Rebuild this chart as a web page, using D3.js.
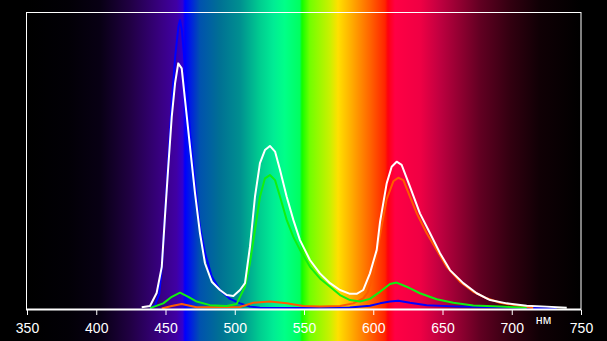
<!DOCTYPE html>
<html>
<head>
<meta charset="utf-8">
<script src="https://cdn.jsdelivr.net/npm/d3@7"></script>
<style>
    body { margin: 0; background: #000; }
    svg { display: block; }
</style>
</head>
<body>
<div class="chart"></div>
<script>
// x axis ticks (nm)
let xTicks = [350, 400, 450, 500, 550, 600, 650, 700, 750];
let unitLabel = "нм";

// spectrum background: wavelength -> colour
let spectrumNm = [350, 380, 403, 424, 446, 458, 462.5, 464.1, 475, 489, 504, 518, 528, 536, 547, 548.5, 554, 569, 574.6, 583, 597.6, 608.5, 610.6, 615.7, 633.7, 648, 677, 699, 720, 750];
let spectrumColor = ["#000000", "#020006", "#080014", "#200042", "#380080", "#4000a4", "#3200d0", "#0000ff", "#0052ae", "#007094", "#009090", "#00cc90", "#00ec94", "#00ff88", "#00ff60", "#10ff00", "#70ff00", "#ccf000", "#ffe000", "#ffb400", "#ff6400", "#ff2400", "#ff0010", "#ff0044", "#f00044", "#c00040", "#620022", "#320010", "#100005", "#000000"];

// white (total)
let whiteNm = [432.8, 438.8, 443.6, 447.3, 449.6, 452.0, 454.5, 456.9, 459.2, 461.7, 464.1, 467.7, 471.3, 474.9, 478.5, 483.4, 489.3, 494.2, 499.0, 503.8, 507.4, 511.0, 514.6, 518.2, 521.8, 525.4, 529.1, 532.7, 537.5, 542.3, 547.1, 554.3, 561.5, 568.8, 576.0, 583.2, 588.0, 592.8, 597.6, 602.5, 604.9, 609.7, 613.3, 616.9, 620.5, 626.5, 633.7, 641.0, 648.2, 655.4, 665.0, 674.7, 684.3, 696.3, 710.8, 725.2, 739.7];
let whiteVal = [0.6, 1.0, 5.4, 14.2, 31.1, 47.9, 64.7, 76.0, 82.7, 81.0, 70.4, 54.6, 39.0, 25.5, 15.4, 9.2, 6.4, 4.7, 4.4, 6.4, 8.7, 21.0, 37.8, 49.1, 53.5, 54.9, 53.0, 46.8, 37.8, 30.0, 23.2, 16.5, 12.0, 8.7, 6.4, 5.1, 5.1, 6.4, 12.0, 19.9, 29.3, 42.3, 47.9, 49.6, 48.5, 41.2, 32.2, 25.5, 18.8, 13.1, 8.7, 5.3, 3.0, 1.9, 1.1, 0.8, 0.4];

// blue
let blueNm = [438.8, 442.4, 445.5, 447.5, 449.8, 452.2, 454.6, 457.0, 459.3, 460.5, 461.8, 464.1, 467.7, 471.3, 474.9, 478.5, 483.4, 489.3, 496.6, 503.8, 511.0, 518.2, 547.0, 583.0, 597.6, 604.9, 612.1, 618.1, 626.5, 638.6, 662.6, 691.5, 732.4];
let blueVal = [0.2, 1.3, 5.0, 15.0, 33.0, 52.0, 70.0, 85.0, 95.0, 97.3, 94.0, 81.6, 59.3, 42.4, 27.6, 18.9, 10.9, 6.4, 3.4, 1.9, 0.8, 0.4, 0.3, 0.5, 1.1, 1.9, 2.5, 2.8, 2.1, 1.3, 0.8, 0.6, 0.2];

// green
let greenNm = [438.8, 448.4, 454.5, 460.5, 466.5, 472.5, 482.1, 494.2, 501.4, 503.8, 507.4, 511.0, 514.6, 518.2, 521.8, 525.4, 529.1, 532.7, 537.5, 542.3, 547.1, 554.3, 561.5, 568.8, 576.0, 583.2, 590.4, 597.6, 604.9, 612.1, 616.9, 624.1, 633.7, 645.8, 657.8, 672.2, 691.5, 710.8];
let greenVal = [0.3, 1.9, 4.1, 5.5, 4.1, 2.5, 1.3, 1.0, 1.7, 4.1, 7.5, 15.5, 26.6, 37.8, 44.0, 45.1, 43.4, 37.8, 30.0, 24.3, 19.9, 14.2, 10.3, 7.5, 4.7, 3.0, 2.5, 3.4, 5.8, 8.4, 8.9, 7.5, 5.3, 3.3, 2.1, 1.2, 0.8, 0.4];

// red
let redNm = [447.3, 454.5, 461.7, 472.5, 503.8, 513.4, 525.4, 537.5, 549.5, 561.5, 576.0, 585.6, 592.8, 596.0, 600.0, 604.9, 609.7, 614.5, 618.1, 621.7, 626.5, 631.4, 638.6, 645.8, 653.0, 662.6, 672.2, 681.9, 691.5, 705.9, 715.5];
let redVal = [0.2, 1.0, 1.7, 0.6, 0.7, 2.1, 2.5, 1.9, 1.0, 0.8, 1.0, 1.9, 3.6, 5.5, 11.5, 25.0, 37.0, 43.0, 44.2, 43.4, 37.8, 32.2, 25.5, 19.9, 14.2, 9.2, 5.8, 3.6, 2.1, 1.0, 0.3];

let series = [
    {name: "blue", color: "#0000ff", nm: blueNm, val: blueVal},
    {name: "red", color: "#ff5a00", nm: redNm, val: redVal},
    {name: "green", color: "#10f010", nm: greenNm, val: greenVal},
    {name: "white", color: "#ffffff", nm: whiteNm, val: whiteVal}
];

let width = 607;
let height = 341;
let plotLeft = 27, plotRight = 581, plotTop = 12, plotBottom = 309;

let svg = d3.select(".chart").append("svg")
    .attr("width", width)
    .attr("height", height);

let x = d3.scaleLinear().domain([350, 750]).range([plotLeft, plotRight]);
let y = d3.scaleLinear().domain([0, 100]).range([plotBottom, plotTop]);

// spectrum gradient over the whole picture
let grad = svg.append("defs").append("linearGradient")
    .attr("id", "spectrum")
    .attr("gradientUnits", "userSpaceOnUse")
    .attr("x1", x(350)).attr("x2", x(750))
    .attr("y1", 0).attr("y2", 0);

grad.selectAll("stop")
    .data(spectrumNm)
    .enter()
    .append("stop")
    .attr("offset", function (d) { return (d - 350) / 400; })
    .attr("stop-color", function (d, i) { return spectrumColor[i]; });

svg.append("rect")
    .attr("x", 0).attr("y", 0)
    .attr("width", width).attr("height", height)
    .attr("fill", "url(#spectrum)");

// curves
let line = d3.line()
    .x(function (d) { return x(d[0]); })
    .y(function (d) { return y(d[1]); });

svg.selectAll(".curve")
    .data(series)
    .enter()
    .append("path")
    .attr("class", "curve")
    .attr("fill", "none")
    .attr("stroke", function (d) { return d.color; })
    .attr("stroke-width", 2)
    .attr("stroke-linejoin", "round")
    .attr("d", function (d) {
        return line(d.nm.map(function (n, i) { return [n, d.val[i]]; }));
    });

// frame
svg.append("rect")
    .attr("x", plotLeft - 0.5).attr("y", plotTop + 0.5)
    .attr("width", plotRight - plotLeft + 0.5).attr("height", plotBottom - plotTop)
    .attr("fill", "none")
    .attr("stroke", "#fff")
    .attr("stroke-width", 1);

svg.append("line")
    .attr("x1", plotLeft - 1).attr("x2", plotRight)
    .attr("y1", plotBottom + 0.5).attr("y2", plotBottom + 0.5)
    .attr("stroke", "#fff")
    .attr("stroke-width", 2);

// x axis
let xAxis = svg.append("g")
    .attr("transform", "translate(0," + (plotBottom + 1) + ")")
    .call(d3.axisBottom(x).tickValues(xTicks).tickSize(5).tickPadding(8).tickFormat(d3.format("d")));

xAxis.select(".domain").remove();
xAxis.selectAll("line").attr("stroke", "#fff");
xAxis.selectAll("text")
    .attr("fill", "#fff")
    .style("font-family", "Liberation Sans, Arial, sans-serif")
    .style("font-size", "14px");

svg.append("text")
    .attr("x", x(723))
    .attr("y", 324)
    .attr("text-anchor", "middle")
    .attr("fill", "#fff")
    .style("font-family", "Liberation Sans, Arial, sans-serif")
    .style("font-size", "12.5px")
    .text(unitLabel);
</script>
</body>
</html>
